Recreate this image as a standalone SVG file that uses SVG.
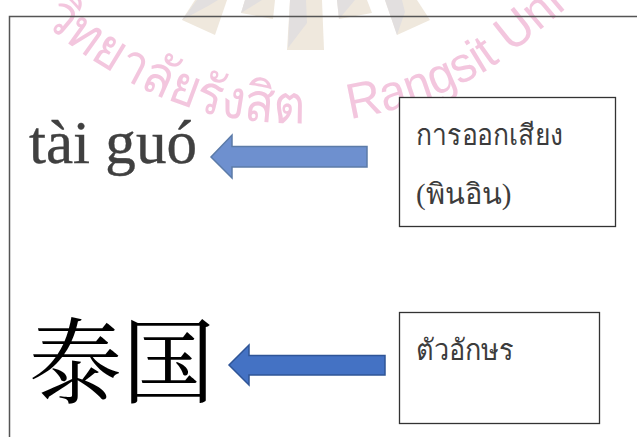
<svg xmlns="http://www.w3.org/2000/svg" width="637" height="437" viewBox="0 0 637 437">
<style>
.box{fill:#fff;stroke:#333;stroke-width:1.3}
.th{font-family:"Liberation Serif","DejaVu Serif",serif;font-size:29px;fill:#3c3c3c}
.wm{font-family:"Noto Sans","DejaVu Sans",sans-serif;font-size:54px;fill:#f3c6de}
.wl{font-family:"Liberation Sans",sans-serif;font-size:50px;fill:#f3c6de}
.tan{fill:#efe8dd}.gr{fill:#e2dfdf}
</style>
<defs><path id="arc" d="M20 0C60 45 130 90 203 112C250 124 310 126 355 118C400 110 450 95 495 65C530 40 570 5 610 -30"/></defs>
<rect width="637" height="437" fill="#fff"/>
<g id="watermark">
<polygon class="tan" points="195,0 227,0 215,35 182,20"/><polygon class="gr" points="197,0 218,0 208,6 182,20"/>
<polygon class="tan" points="245,0 275,0 273,19 241,13"/><polygon class="gr" points="245,0 262,0 241,13"/>
<polygon class="tan" points="290,0 322,0 324,50 287,50"/><polygon class="gr" points="290,0 306,0 307,23 288,48"/>
<polygon class="tan" points="337,0 367,0 372,13 339,19"/><polygon class="gr" points="337,0 355,0 339,19"/>
<polygon class="tan" points="385,0 417,0 430,20 397,35"/><polygon class="gr" points="385,0 402,0 405,12 397,35"/>
<text class="wm"><textPath href="#arc" startOffset="30" textLength="290" lengthAdjust="spacingAndGlyphs">วิทยาลัยรังสิต</textPath></text>
<text class="wl"><textPath href="#arc" startOffset="365" textLength="248" lengthAdjust="spacingAndGlyphs">Rangsit Uni</textPath></text>
</g>
<path id="frame" d="M9.500 437V16.500H637" fill="none" stroke="#555" stroke-width="1.500"/>
<g id="pinyin"><text x="29" y="163" font-family="Liberation Serif,serif" font-size="62" fill="#404040" stroke="#404040" stroke-width="0.400" textLength="168" lengthAdjust="spacingAndGlyphs">tài guó</text></g>
<g id="hanzi"><text x="29" y="396" font-family="Noto Serif CJK SC,Noto Sans CJK SC,sans-serif" font-size="93" fill="#000">泰国</text></g>
<g id="connectors">
<path d="M367 146.500H232V135L211 157L232 178V167H367Z" fill="#6e90cf" stroke="#5c7ba8" stroke-width="1.500"/>
<path d="M385 355.500H249V345L229 365L249 385V375H385Z" fill="#4472c4" stroke="#2f5597" stroke-width="1.500"/>
</g>
<g id="box-pronunciation"><rect class="box" x="399.500" y="97.500" width="216" height="129"/>
<text class="th" x="416" y="145" textLength="147" lengthAdjust="spacingAndGlyphs">การออกเสียง</text>
<text class="th" x="416" y="204" fill="#222">(พินอิน)</text></g>
<g id="box-character"><rect class="box" x="399.500" y="312.500" width="200" height="111"/>
<text class="th" x="416" y="360" textLength="98" lengthAdjust="spacingAndGlyphs">ตัวอักษร</text></g>
</svg>
